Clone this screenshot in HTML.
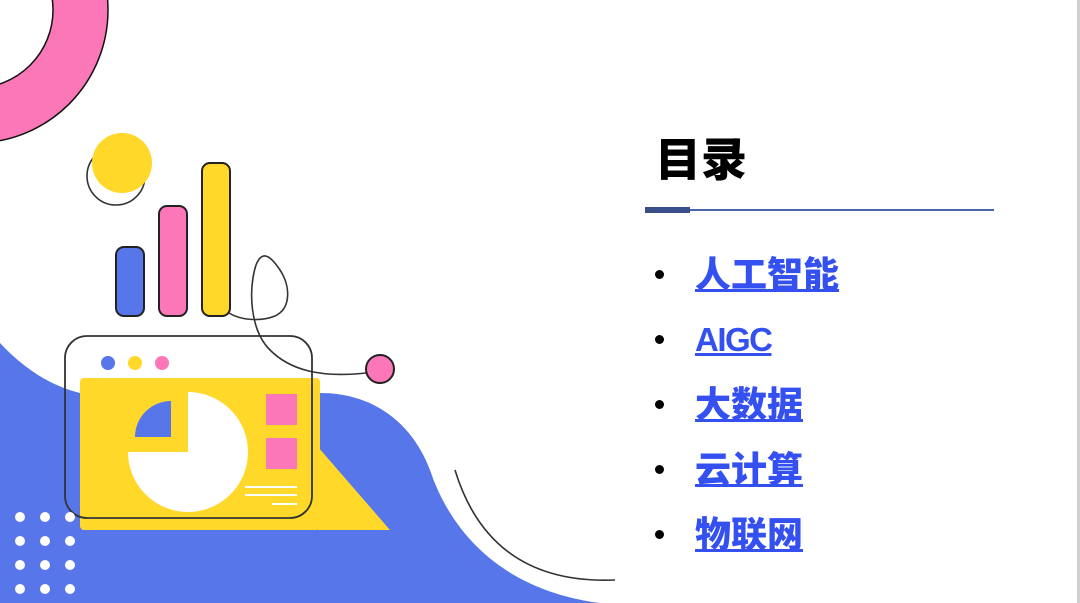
<!DOCTYPE html>
<html><head><meta charset="utf-8"><style>
html,body{margin:0;padding:0;}
body{width:1080px;height:603px;position:relative;overflow:hidden;background:#fff;font-family:"Liberation Sans","Noto Sans CJK SC",sans-serif;}
svg{position:absolute;left:0;top:0;}
.t{position:absolute;left:655px;top:131px;font-size:46px;font-weight:900;color:#000;line-height:58px;letter-spacing:0px;}
.item{position:absolute;left:695px;font-size:36px;font-weight:900;color:#3450f0;text-decoration:underline;text-decoration-thickness:3px;text-underline-offset:2px;line-height:44px;}
.b{position:absolute;left:655px;width:9px;height:9px;border-radius:50%;background:#000;}
</style></head><body>
<svg width="1080" height="603" viewBox="0 0 1080 603">
<circle cx="-25" cy="10" r="105.5" fill="none" stroke="#fb77b8" stroke-width="55"/>
<circle cx="-25" cy="10" r="133" fill="none" stroke="#111" stroke-width="1.5"/>
<circle cx="-25" cy="10" r="78" fill="none" stroke="#111" stroke-width="1.5"/>
<path d="M0,343 C30,375 60,390 90,395 L320,393 C380,393 415,430 430,470 C450,530 500,590 600,603 L0,603 Z" fill="#5676ea"/>
<path d="M455,470 Q490,585 615,580" fill="none" stroke="#333" stroke-width="1.6"/>
<circle cx="116" cy="176" r="29" fill="none" stroke="#333" stroke-width="1.6"/>
<circle cx="122" cy="163" r="30" fill="#ffd829"/>
<rect x="116" y="247" width="28" height="69" rx="8" fill="#5676ea" stroke="#222" stroke-width="2"/>
<rect x="159" y="206" width="28" height="110" rx="8" fill="#fb77b8" stroke="#222" stroke-width="2"/>
<rect x="202" y="163" width="28" height="153" rx="8" fill="#ffd829" stroke="#222" stroke-width="2"/>
<rect x="80" y="345" width="240" height="33" fill="#fff"/>
<rect x="80" y="378" width="240" height="152" rx="4" fill="#ffd829"/>
<polygon points="318,447 390,530 318,530" fill="#ffd829"/>
<circle cx="108" cy="363" r="7" fill="#5676ea"/>
<circle cx="135" cy="363" r="7" fill="#ffd829"/>
<circle cx="162" cy="363" r="7" fill="#fb77b8"/>
<path d="M188,392 A60,60 0 1 1 128,452 L188,452 Z" fill="#fff"/>
<path d="M171,401 A36,36 0 0 0 135,437 L171,437 Z" fill="#5676ea"/>
<rect x="266" y="394" width="31" height="31" fill="#fb77b8"/>
<rect x="266" y="438" width="31" height="31" fill="#fb77b8"/>
<g stroke="#fff" stroke-width="2"><line x1="245" y1="487" x2="297" y2="487"/><line x1="245" y1="495" x2="297" y2="495"/><line x1="272" y1="504" x2="297" y2="504"/></g>
<rect x="65" y="336" width="247" height="182" rx="22" fill="none" stroke="#333" stroke-width="1.8"/>
<path d="M229,313 C240,320 260,322 275,316 C292,308 290,285 280,270 C270,255 262,250 256,265 C248,290 250,330 270,350 C290,370 320,378 366,373" fill="none" stroke="#333" stroke-width="1.6"/>
<circle cx="380" cy="369" r="14" fill="#fb77b8" stroke="#222" stroke-width="2"/>
<g fill="#fff">
<circle cx="20" cy="517" r="5"/><circle cx="45" cy="517" r="5"/><circle cx="70" cy="517" r="5"/>
<circle cx="20" cy="541" r="5"/><circle cx="45" cy="541" r="5"/><circle cx="70" cy="541" r="5"/>
<circle cx="20" cy="565" r="5"/><circle cx="45" cy="565" r="5"/><circle cx="70" cy="565" r="5"/>
<circle cx="20" cy="589" r="5"/><circle cx="45" cy="589" r="5"/><circle cx="70" cy="589" r="5"/>
</g>
<rect x="645" y="207" width="45" height="6" fill="#3a4f8a"/>
<rect x="690" y="209" width="304" height="2" fill="#4a66b0"/>
<rect x="1077" y="0" width="3" height="603" fill="#d0d0d0"/>
</svg>
<div class="t">目录</div>
<div class="b" style="top:270px"></div><div class="item" style="top:253px">人工智能</div>
<div class="b" style="top:335px"></div><div class="item" style="top:318px;font-size:33px;letter-spacing:-1.5px">AIGC</div>
<div class="b" style="top:400px"></div><div class="item" style="top:383px">大数据</div>
<div class="b" style="top:465px"></div><div class="item" style="top:448px">云计算</div>
<div class="b" style="top:530px"></div><div class="item" style="top:513px">物联网</div>
</body></html>
